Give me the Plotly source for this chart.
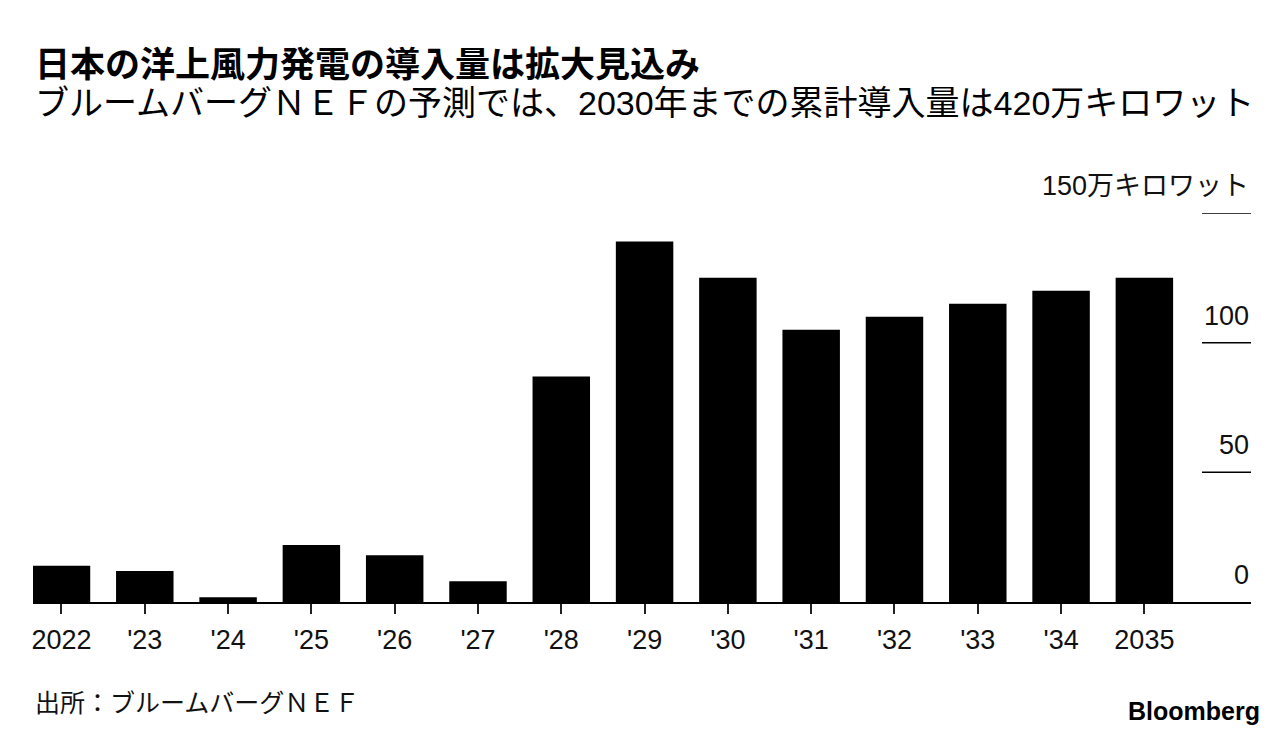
import plotly.graph_objects as go

categories = ["2022", "'23", "'24", "'25", "'26", "'27", "'28", "'29", "'30", "'31", "'32", "'33", "'34", "2035"]
values = [14, 12, 1.8, 22, 18, 8, 87, 139, 125, 105, 110, 115, 120, 125]
y_ticks = [0, 50, 100]
y_tick_labels = ["0", "50", "100"]
unit_label = "150万キロワット"
unit_value = 150

title = "日本の洋上風力発電の導入量は拡大見込み"
subtitle = "ブルームバーグＮＥＦの予測では、2030年までの累計導入量は420万キロワット"
source = "出所：ブルームバーグＮＥＦ"

# page body has an 8px margin; work in window pixels and convert
OFF = 8
W, H = 1285 - OFF, 742 - OFF
plot_left, plot_right, plot_top, plot_bottom = 33, 1251, 212.7, 601.7
L = plot_left - OFF
R = W - (plot_right - OFF)
T = plot_top - OFF
B = H - (plot_bottom - OFF)
plot_w = plot_right - plot_left
plot_h = plot_bottom - plot_top

def py(pix):
    return (plot_bottom - pix) / plot_h

def px(pix):
    return (pix - plot_left) / plot_w

font_latin = "Liberation Sans, Noto Sans CJK JP, sans-serif"
font_cjk = "Noto Sans CJK JP, Liberation Sans, sans-serif"

fig = go.Figure()
fig.add_trace(go.Bar(
    x=list(range(len(categories))),
    y=values,
    marker=dict(color="#000000", line=dict(width=0)),
    hoverinfo="skip",
))

shapes = []
annotations = []
for v, lab in list(zip(y_ticks, y_tick_labels)) + [(unit_value, unit_label)]:
    if v != 0:
        shapes.append(dict(type="line", xref="paper", yref="y", x0=px(1202), x1=1, y0=v, y1=v,
                           line=dict(color="#000000", width=1.5)))
    annotations.append(dict(text=lab, xref="paper", yref="y", x=1, y=v, xanchor="right",
                            yanchor="bottom", yshift=10, showarrow=False,
                            font=dict(size=27, color="#111111", family=font_latin)))

annotations.append(dict(text="<b>" + title + "</b>", xref="paper", yref="paper", x=0, y=py(61),
                        xanchor="left", yanchor="middle", showarrow=False,
                        font=dict(size=35, color="#000000", family=font_cjk)))
annotations.append(dict(text=subtitle, xref="paper", yref="paper", x=0, y=py(103),
                        xanchor="left", yanchor="middle", showarrow=False,
                        font=dict(size=34, color="#000000", family=font_latin)))
annotations.append(dict(text=source, xref="paper", yref="paper", x=0, y=py(703),
                        xanchor="left", yanchor="middle", showarrow=False,
                        font=dict(size=25, color="#111111", family=font_latin)))
annotations.append(dict(text="<b>Bloomberg</b>", xref="paper", yref="paper",
                        x=px(1262), y=py(711),
                        xanchor="right", yanchor="middle", showarrow=False,
                        font=dict(size=25, color="#000000", family="Liberation Sans, sans-serif")))

fig.update_layout(
    width=W, height=H,
    margin=dict(l=L, r=R, t=T, b=B, pad=0),
    paper_bgcolor="#ffffff", plot_bgcolor="#ffffff",
    showlegend=False,
    bargap=0.31,
    shapes=shapes,
    annotations=annotations,
    xaxis=dict(
        range=[-0.342, 14.28],
        tickmode="array",
        tickvals=list(range(len(categories))),
        ticktext=categories,
        showline=True, linecolor="#000000", linewidth=1.5,
        ticks="outside", ticklen=10, tickwidth=1.5, tickcolor="#222222",
        ticklabelstandoff=3,
        showgrid=False, zeroline=False,
        tickfont=dict(size=27, color="#111111", family=font_latin),
        fixedrange=True,
    ),
    yaxis=dict(
        range=[0, 150],
        showticklabels=False, showgrid=False, zeroline=False, showline=False,
        fixedrange=True,
    ),
)

fig.write_html("out.html")
